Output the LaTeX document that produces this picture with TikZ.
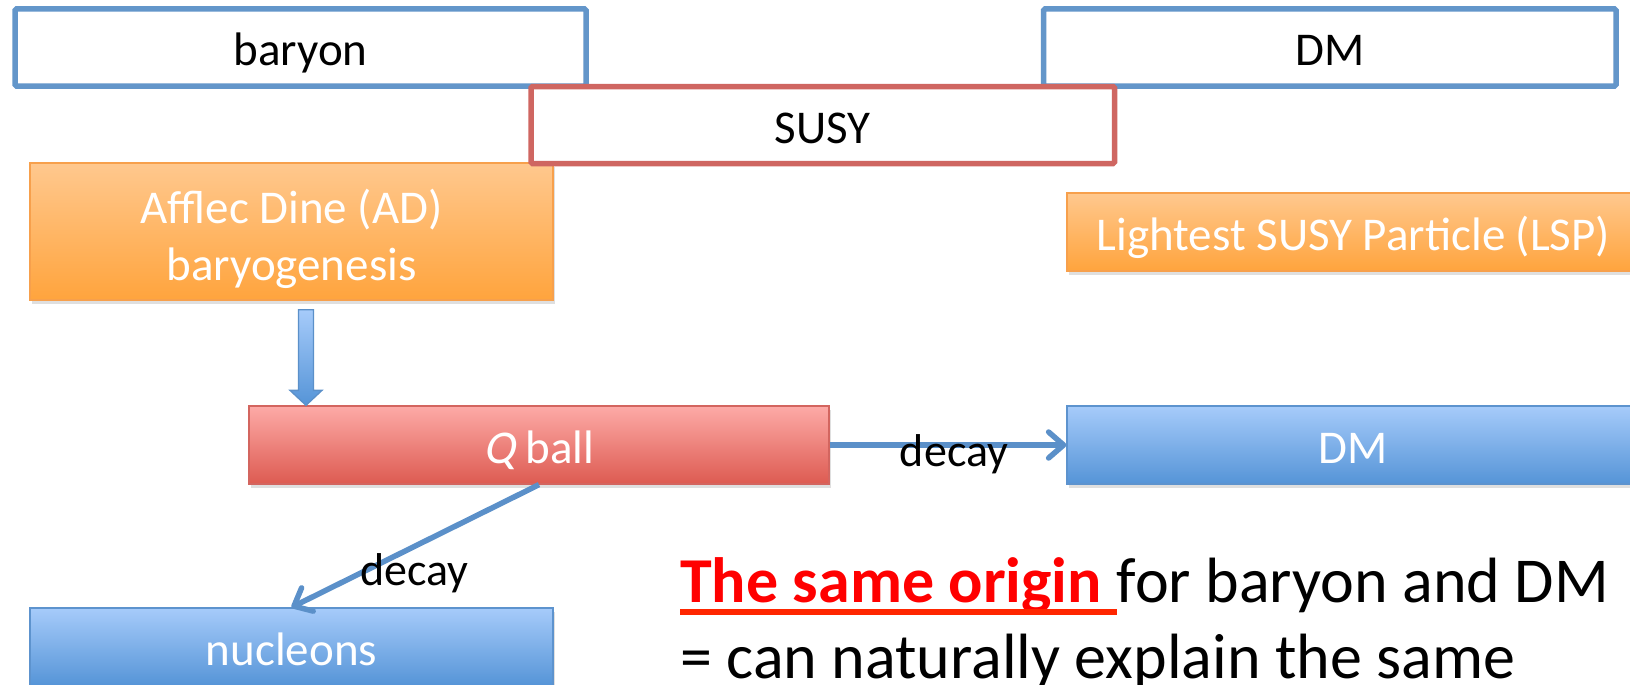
\documentclass[tikz,border=0pt]{standalone}
\usepackage{fontspec}
\setmainfont{Carlito}
\newfontfamily\slantedcarlito{Carlito}[FakeSlant=0.2]
\usetikzlibrary{arrows.meta,calc,shadows}

\definecolor{frameblue}{HTML}{6396CA}
\definecolor{framered}{HTML}{CF6661}
\definecolor{orangetop}{HTML}{FFC88E}
\definecolor{orangebot}{HTML}{FFA43D}
\definecolor{orangeline}{HTML}{F7A04C}
\definecolor{redtop}{HTML}{FDAAA7}
\definecolor{redbot}{HTML}{DD5B51}
\definecolor{redline}{HTML}{D3655F}
\definecolor{bluetop}{HTML}{A6CBFA}
\definecolor{bluebot}{HTML}{5594D7}
\definecolor{blueline}{HTML}{5D93CE}
\definecolor{arrowblue}{HTML}{5B90C9}
\definecolor{ulred}{HTML}{FF2600}

\newcommand\panelfont{\fontsize{47}{57}\selectfont}
\newcommand\edgefont{\fontsize{46}{55}\selectfont}
\newcommand\calloutfont{\fontsize{64}{76}\selectfont}

\begin{document}
\begin{tikzpicture}[x=1pt,y=-1pt,
  panel/.style={rectangle, inner sep=0pt, font=\panelfont},
  oneline/.style={text height=46pt, text depth=10pt},
  frame/.style={panel, oneline, draw=#1, line width=5.5pt, fill=white,
    rounded corners=1.5pt, text=black},
  shaded/.style n args={3}{panel, draw=#3, line width=1.3pt,
    top color=#1, bottom color=#2, text=white,
    drop shadow={opacity=0.25, shadow xshift=2pt, shadow yshift=-3.5pt}},
  orangebox/.style={shaded={orangetop}{orangebot}{orangeline}},
  redbox/.style={shaded={redtop}{redbot}{redline}},
  bluebox/.style={shaded={bluetop}{bluebot}{blueline}},
  conn/.style={draw=arrowblue, line width=5.5pt,
    -{Straight Barb[length=15pt,width=26pt,round]}},
  edgelabel/.style={font=\edgefont, text=black, inner sep=0pt, anchor=base},
  blockarrow/.style={draw=arrowblue, line width=1.3pt, line join=miter,
    top color=bluetop, bottom color=bluebot},
  callout/.style={anchor=base west, inner sep=0pt, font=\calloutfont}
]
\useasboundingbox (0,0) rectangle (1630,685);

% category frames
\node[frame=frameblue, minimum width=571pt, minimum height=77pt] (bar) at (300.5,47.5) {baryon};
\node[frame=frameblue, minimum width=572.5pt, minimum height=77pt] (dmt) at (1329.75,47.5) {DM};

% mechanism boxes
\node[orangebox, minimum width=523pt, minimum height=137pt] (ad) at (291.5,231.5) {};
\node[panel, text=white, align=center] (adtext) at ($(ad.center)+(0,7)$)
  {Afflec Dine (AD)\\baryogenesis};
\node[frame=framered, minimum width=583.5pt, minimum height=77pt] (susy) at (822.75,125) {SUSY};
\node[orangebox, oneline, minimum width=573pt, minimum height=78pt] (lsp) at (1353.5,232)
  {Lightest SUSY Particle (LSP)};

% products
\node[redbox, oneline, minimum width=580pt, minimum height=78pt] (qb) at (539,445)
  {{\slantedcarlito Q} ball};
\node[bluebox, oneline, minimum width=573pt, minimum height=78pt] (dmb) at (1353.5,445) {DM};
\node[bluebox, oneline, minimum width=523pt, minimum height=78pt] (nuc) at (291.5,647) {nucleons};

% block arrow from AD baryogenesis to the Q ball
\coordinate (bat) at ($(ad.south)+(14.5,9)$);
\coordinate (bab) at (bat |- qb.north);
\path[blockarrow] ($(bat)+(-7.5,0)$) -- ($(bat)+(7.5,0)$) -- ($(bab)+(7.5,-15)$)
  -- ($(bab)+(16,-15)$) -- (bab) -- ($(bab)+(-16,-15)$) -- ($(bab)+(-7.5,-15)$) -- cycle;

% decay channels
\draw[conn] (qb.east) -- node[edgelabel, xshift=6pt, yshift=-21pt] {decay} (dmb.west);
\draw[conn] (qb.south) -- node[edgelabel, xshift=-1pt, yshift=-39pt] {decay} (nuc.north);

% conclusion
\node[callout, text=red, font=\calloutfont\bfseries] (orig) at (680,602) {The same origin\kern0.226em};
\node[callout] (rest) at (orig.base east) {for baryon and DM};
\fill[ulred] ($(orig.base west)+(0,7)$) rectangle ($(orig.base east)+(0,12.5)$);
\node[callout] (expl) at (680,678) {= can naturally explain the same};
\end{tikzpicture}
\end{document}
